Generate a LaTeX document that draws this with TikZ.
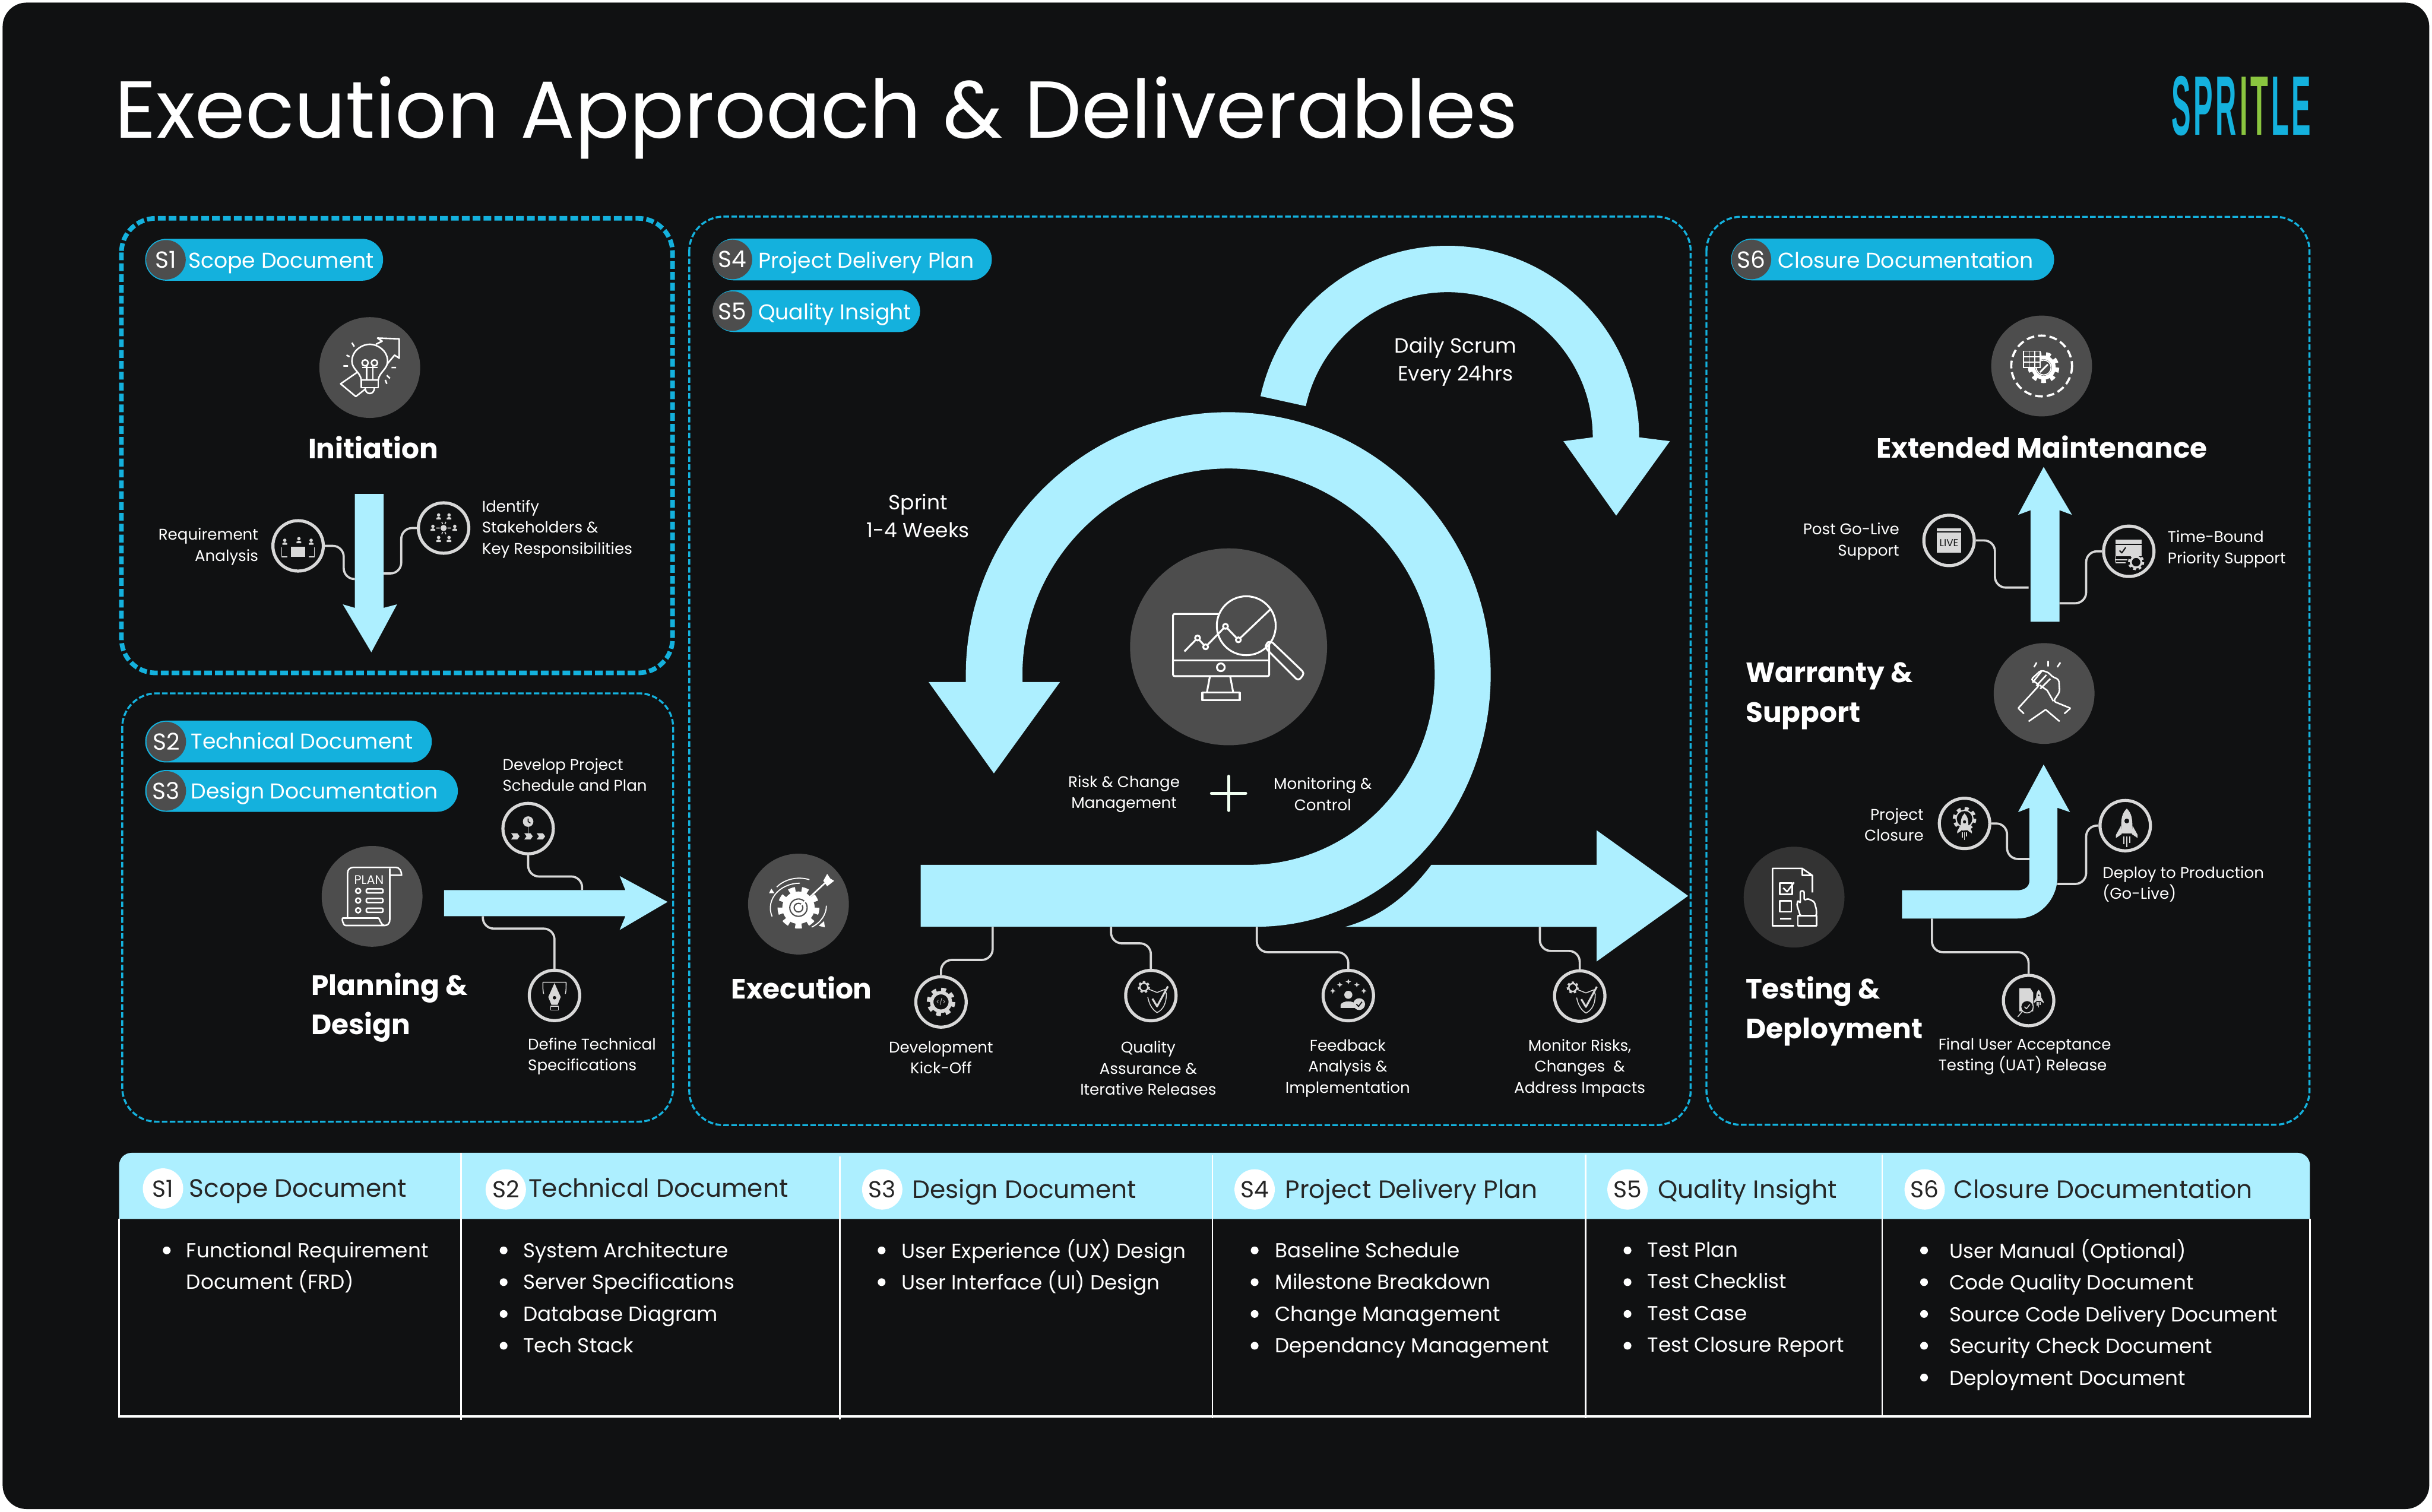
\documentclass[tikz,border=0pt]{standalone}
\usepackage{fontspec}
\setmainfont{Poppins}
\newfontfamily\logofont{Liberation Sans}
\usetikzlibrary{calc}
\definecolor{bgdark}{HTML}{101112}
\definecolor{sky}{HTML}{ADEFFF}
\definecolor{pillblue}{HTML}{14B1DD}
\definecolor{discgray}{HTML}{4D4D4D}
\definecolor{discdark}{HTML}{333333}
\definecolor{wiregray}{HTML}{D8D8D8}
\definecolor{logogreen}{HTML}{8AC53F}
\tikzset{
 boxthick/.style={draw=pillblue, line width=3pt, dash pattern=on 5pt off 2pt, rounded corners=22pt},
 boxthin/.style={draw=pillblue, line width=1.3pt, dash pattern=on 3.6pt off 1.5pt, rounded corners=22pt},
 pill/.style={fill=pillblue, rounded corners=13.5pt, minimum height=27pt, inner sep=0pt},
 pillc/.style={circle, fill=discgray, minimum size=25.5pt, inner sep=0pt, text=white, font=\fontsize{15}{15}\selectfont},
 pilltext/.style={anchor=base west, inner sep=0pt, text=white, font=\fontsize{13.85}{14}\selectfont},
 disc/.style={circle, fill=discgray, minimum size=65pt, inner sep=0pt},
 small/.style={circle, draw=wiregray, line width=2pt, minimum size=32.5pt, inner sep=0pt},
 heading/.style={inner sep=0pt, text=white, font=\fontsize{18}{25.5}\selectfont\bfseries, align=left},
 lbl/.style={inner sep=0pt, yshift=-.8pt, text=white, font=\fontsize{10}{13.6}\selectfont},
 big/.style={inner sep=0pt, text=white, font=\fontsize{13.2}{18}\selectfont, align=center},
 wire/.style={draw=wiregray, line width=1.4pt, rounded corners=7pt},
 thead/.style={anchor=base west, inner sep=0pt, text=black!85, font=\fontsize{16.2}{16}\selectfont},
 theadc/.style={circle, fill=white, minimum size=26pt, inner sep=0pt, text=black!85, font=\fontsize{15}{15}\selectfont},
 tbody/.style={anchor=north west, inner sep=0pt, text=white, font=\fontsize{13.1}{20.45}\selectfont, align=left},
 rule/.style={draw=white, line width=1pt},
 icon/.style={white, line width=1pt, line join=round},
 sicon/.style={wiregray, line width=.6pt, line join=round},
}
\newcommand{\gearat}[3]{
 \pgfmathsetmacro{\gearstep}{3.1416*1.05*#2/#3}
 \draw[line width=#2*.35pt, dash pattern=on \gearstep pt off \gearstep pt] (#1) circle (#2*1.05);
 \draw[line width=#2*.3pt] (#1) circle (#2*.8);
}
\newcommand{\bulls}[2]{\foreach \y in {#2} {\fill[white] (#1,\y) circle (2.5pt);}}
\newcommand{\person}[2]{
 \fill (#1,#2-1.1) circle (1.1);
 \fill (#1-1.5,#2+1.8) -- (#1-1.5,#2+.8) -- (#1,#2+.1) -- (#1+1.5,#2+.8) -- (#1+1.5,#2+1.8) -- cycle;
}
\newcommand{\minirocket}[3]{
 \begin{scope}[shift={(#1,#2)},scale=#3]
  \fill[even odd rule] (0,-11) .. controls (3,-8) and (4,-5) .. (3.5,5) -- (-3.5,5) .. controls (-4,-5) and (-3,-8) .. (0,-11) -- cycle (0,-3) circle (1.6);
  \fill (-3.7,0) -- (-7,6) -- (-7,8) -- (-3.3,5.5) -- cycle;
  \fill (3.7,0) -- (7,6) -- (7,8) -- (3.3,5.5) -- cycle;
  \draw (-2,7) -- (-2,12) (0,7) -- (0,14) (2,7) -- (2,11);
 \end{scope}
}
\begin{document}
\begin{tikzpicture}[x=1pt,y=-1pt]
 \useasboundingbox (0,0) rectangle (1568,975);
 \fill[white] (0,0) rectangle (1568,975);
 \fill[bgdark, rounded corners=15.4pt] (1.7,1.7) rectangle (1566.2,973.1);

 % title and logo
 \node (title) [anchor=west, inner sep=0pt, text=white, font=\fontsize{52.1}{52}\selectfont] at (74,76) {Execution Approach \& Deliverables};
 \node (logo) [inner sep=0pt] at (1445,68.4) {\resizebox{90pt}{38pt}{\logofont\bfseries\textcolor{pillblue}{S\kern.1em P\kern.1em R}\kern.1em\textcolor{logogreen}{I\kern.1em T}\kern.1em\textcolor{pillblue}{L\kern.1em E}}};

 % section frames
 \draw[boxthick] (78.3,140.8) rectangle (433.6,433.9);
 \draw[boxthin] (78.8,447.1) rectangle (434,723.3);
 \draw[boxthin] (444.4,139.7) rectangle (1090,725.5);
 \draw[boxthin] (1100.2,139.8) rectangle (1489,725.3);

 % initiation
 \node (pillA) [pill, minimum width=153.4pt] at (170.3,167.5) {};
 \node (pillAc) [pillc] at (107,167.5) {S1};
 \node (pillAt) [pilltext] at (121.2,172.7) {Scope Document};
 \node (init) [disc] at (238.4,237) {};
 \begin{scope}[shift={(init)},icon]
  \draw (-5.5,8) .. controls (-6,3) and (-11.5,1) .. (-11.5,-4) .. controls (-11.5,-11) and (-5,-15) .. (0,-15) .. controls (5,-15) and (11.5,-11) .. (11.5,-4) .. controls (11.5,1) and (6,3) .. (5.5,8) -- cycle;
  \draw (-5.5,8) rectangle (5.5,13);
  \draw (-3,13) .. controls (-3,18) and (3,18) .. (3,13);
  \draw (-2,8) -- (-2,-2) (2,8) -- (2,-2) (-5,0) -- (5,0);
  \draw (-3,-3) circle (2) (3,-3) circle (2);
  \draw (4,-15) -- (8,-17) -- (5,-19) -- (19,-18.5) -- (19,-6) -- (16,-8) -- (11,-2);
  \draw (-8,3) -- (-18.8,10.5) -- (-9,18.7) -- (-3,14);
  \draw (-15,-8) -- (-13,-7) (-17,-1) -- (-14,-1) (-11.5,-16) -- (-10,-13.5) (14,0) -- (17,0) (11,5) -- (13,7) (10,8) -- (11,10.5);
 \end{scope}
 \node (initt) [heading] at (240.6,288.4) {Initiation};
 \fill[sky] (228.8,318.5) -- (247.3,318.5) -- (247.3,392) -- (256,389.7) -- (239.4,420.6) -- (221,389.7) -- (228.8,392) -- cycle;
 \node (reqc) [small] at (192.2,352) {};
 \begin{scope}[shift={(reqc)},sicon]
  \fill (-4.7,.4) rectangle (4.7,7);
  \person{-8.6}{-2.5} \person{.5}{-3.5} \person{8.4}{-2.5}
  \draw (-10.5,1) -- (-10.5,7) -- (-7,7) (10.5,1) -- (10.5,7) -- (7,7);
 \end{scope}
 \node (stakec) [small] at (286,340.5) {};
 \begin{scope}[shift={(stakec)},sicon]
  \fill (0,0) circle (2);
  \person{-3.2}{-7.3} \person{3.5}{-7.3} \person{-6.9}{0} \person{7.2}{0} \person{-3.2}{7.2} \person{3.5}{7.2}
  \draw (-1.2,-4) -- (-.6,-2.5) (1.5,-4) -- (.8,-2.5) (-4.8,0) -- (-2.5,0) (4.8,0) -- (2.5,0) (-1.2,4) -- (-.6,2.5) (1.5,4) -- (.8,2.5);
 \end{scope}
 \coordinate (reqend) at (228.8,373.4);
 \coordinate (stakeend) at (247.3,369.8);
 \draw[wire] (reqc.east) -| (221.6,373.4) -- (reqend);
 \draw[wire] (stakec.west) -| (258.7,369.8) -- (stakeend);
 \node (req) [lbl, anchor=east, align=right] at (166.7,351.8) {Requirement\\Analysis};
 \node (stake) [lbl, anchor=west, align=left] at (310.6,340.3) {Identify\\Stakeholders \&\\Key Responsibilities};

 % planning
 \node (pillB) [pill, minimum width=184.8pt] at (186,478.2) {};
 \node (pillBc) [pillc] at (107.2,478.2) {S2};
 \node (pillBt) [pilltext] at (123,483) {Technical Document};
 \node (pillC) [pill, minimum width=201.6pt] at (194.4,510) {};
 \node (pillCc) [pillc] at (107.2,510) {S3};
 \node (pillCt) [pilltext] at (123,515) {Design Documentation};
 \node (plan) [disc] at (239.9,578) {};
 \begin{scope}[shift={(plan)},icon]
  \draw (-15.8,14) -- (-15.8,-15) .. controls (-15.8,-17.5) and (-14,-18.7) .. (-12,-18.7) -- (15,-18.7) .. controls (18,-18.7) and (19,-16) .. (19,-13.6) -- (11.4,-13.6);
  \draw (11.4,-18) -- (11.4,15) .. controls (11.4,18) and (9.5,18.8) .. (8,18.8) -- (-17,18.8) .. controls (-19,18.8) and (-19.5,14) .. (-19,14) -- (4,14) .. controls (5,14) and (5,18) .. (8,18.8);
  \node (plani) [inner sep=0pt, font=\fontsize{8}{8}\selectfont] at (-2,-10.5) {PLAN};
  \draw (-9,-3.5) circle (1.6) (-9,2.7) circle (1.6) (-9,9) circle (1.6);
  \draw[rounded corners=.6pt] (-3.7,-4.8) rectangle (7,-2.2) (-3.7,1.4) rectangle (7,4) (-3.7,7.7) rectangle (7,10.3);
 \end{scope}
 \node (plant) [heading, anchor=west] at (200.6,649.7) {Planning \&\\Design};
 \fill[sky] (286.3,574) -- (403.2,574) -- (399.5,564.9) -- (430.4,581.6) -- (399.5,599.7) -- (403.2,590.8) -- (286.3,590.8) -- cycle;
 \node (timec) [small] at (340.5,534.3) {};
 \begin{scope}[shift={(timec)},sicon]
  \fill (0,-4.5) circle (3.4);
  \draw (0,-1) -- (0,3);
  \fill (-11,3) -- (-7,3) -- (-5.5,5) -- (-7,7) -- (-11,7) -- (-9.5,5) -- cycle;
  \fill (-2.5,3) -- (1.5,3) -- (3,5) -- (1.5,7) -- (-2.5,7) -- (-1,5) -- cycle;
  \fill (5.5,3) -- (9.5,3) -- (11,5) -- (9.5,7) -- (5.5,7) -- (7,5) -- cycle;
  \draw[bgdark] (0,-6.5) -- (0,-4.5) -- (1.5,-3.5);
 \end{scope}
 \node (penc) [small] at (357.5,641.9) {};
 \begin{scope}[shift={(penc)},sicon]
  \fill (0,-8) -- (4,1) -- (2,6) -- (-2,6) -- (-4,1) -- cycle;
  \fill[bgdark] (0,1.5) circle (1.1);
  \draw (-2.5,7) rectangle (2.5,9.5);
  \draw (-7.5,-8.5) -- (7.5,-8.5) (-7.5,-8.5) .. controls (-7.5,-5) and (-7.5,-3) .. (-7,-1) (7.5,-8.5) .. controls (7.5,-5) and (7.5,-3) .. (7,-1);
 \end{scope}
 \coordinate (timeend) at (375.3,574);
 \coordinate (penend) at (311.3,590.8);
 \draw[wire] (timec.south) |- (timeend |- 0,565.2) -- (timeend);
 \draw[wire] (penend) |- (penc.north |- 0,598.8) -- (penc.north);
 \node (time) [lbl, anchor=west, align=left] at (323.9,498.9) {Develop Project\\Schedule and Plan};
 \node (pen) [lbl, anchor=west, align=left] at (340.2,680.4) {Define Technical\\Specifications};

 % execution
 \node (pillD) [pill, minimum width=179.9pt] at (549.5,167.3) {};
 \node (pillDc) [pillc] at (472.2,167.3) {S4};
 \node (pillDt) [pilltext] at (488.7,172.7) {Project Delivery Plan};
 \node (pillE) [pill, minimum width=133.6pt] at (526.4,200.6) {};
 \node (pillEc) [pillc] at (472.2,200.6) {S5};
 \node (pillEt) [pilltext] at (488.7,206.1) {Quality Insight};
 \coordinate (scrum) at (933.3,282);
 \fill[sky] (scrum) ++(192.4:123.5) arc (192.4:360:123.5) -- (1076.6,284.5) -- (1042,332.5) -- (1008,284.5) -- (1026.9,282) arc (360:192.4:93.6) -- cycle;
 \fill[sky] (867.2,597.7) .. controls (895,590) and (912,572) .. (922.8,557.7) -- (1029.4,557.7) -- (1029.4,535.4) -- (1088.4,577.7) -- (1029.4,620) -- (1029.4,597.7) -- cycle;
 \fill[sky] (593.6,557.7) -- (805,557.7) arc (90:0:120 and 122.7) arc (360:180:132.9) -- (659.2,439.8) -- (683.4,439.8) -- (640.8,498.7) -- (598.7,439.8) -- (622.7,439.8) -- (622.7,435) arc (180:360:169.2) arc (0:90:151 and 162.6) -- (593.6,597.6) -- cycle;
 \node (moni) [circle, fill=discgray, minimum size=127pt, inner sep=0pt] at (792.1,417.1) {};
 \begin{scope}[shift={(moni)},icon,line width=1.2pt]
  \draw[rounded corners=1pt] (-35.8,-21.2) rectangle (26.2,18.9);
  \draw (-35.8,8.7) -- (26.2,8.7);
  \draw (-5,13.2) circle (2.5);
  \draw (-12,18.9) -- (-14,29.5) (1,18.9) -- (3,29.5);
  \draw (-16.9,29.5) rectangle (7.2,34.4);
  \draw[fill=discgray] (11.4,-13.6) circle (19);
  \draw[rounded corners=2pt] (24,-2) -- (27,-4) -- (49,17) -- (45,22) -- (24,1) -- cycle;
  \draw (-28.5,3) -- (-20,-5.7) -- (-14.8,0) -- (-2,-13.2) -- (6.3,-4.5) -- (27.4,-24.6);
  \draw[fill=discgray] (-20,-5.7) circle (1.6) (-14.8,0) circle (1.6) (-2,-13.2) circle (1.6) (6.3,-4.5) circle (1.6);
 \end{scope}
 \node (exec) [disc] at (514.8,583) {};
 \begin{scope}[shift={(exec)},white]
  \gearat{0,2.3}{11}{9}
  \fill[white] (0,2.3) circle (8);
  \draw[discgray,line width=.8pt] (0,2.3) circle (5.6) (0,2.3) circle (2.8);
  \draw[line width=1pt] (0,2.3) -- (17,-13.5);
  \fill (16,-15) -- (18.5,-19.5) -- (20.5,-16.5) -- (23,-15) -- (18.5,-11.5) -- cycle;
  \draw[line width=.7pt] (-17,8) arc (160:270:19 and 16);
  \draw[line width=.7pt] (-14,-11) arc (220:290:19 and 16);
  \draw[line width=.7pt] (18,1) arc (0:60:19 and 16);
  \fill (-19,-7) -- (-15.5,-7) -- (-17.5,-10) -- cycle;
  \fill (13,14) -- (17,15) -- (16.5,11) -- cycle;
 \end{scope}
 \node (exect) [heading] at (516.9,637) {Execution};
 \node (scrumt) [big] at (938.4,233.3) {Daily Scrum\\Every 24hrs};
 \node (sprint) [big] at (591.9,332.8) {Sprint\\1-4 Weeks};
 \node (risk) [lbl, align=center] at (724.7,511.2) {Risk \& Change\\Management};
 \node (ctrl) [lbl, align=center] at (852.8,511.2) {Monitoring \&\\Control};
 \coordinate (plus) at (792.1,511.6);
 \draw[draw=green!6!white, line width=2pt, line cap=round] ($(plus)+(-11,0)$) -- ($(plus)+(11,0)$);
 \draw[draw=green!6!white, line width=2pt, line cap=round] ($(plus)+(0,-11)$) -- ($(plus)+(0,11)$);
 \node (devc) [small] at (606.7,646.1) {};
 \begin{scope}[shift={(devc)},sicon]
  \gearat{0,0}{7.5}{8}
  \node (devi) [inner sep=0pt, text=wiregray, font=\fontsize{4}{4}\selectfont] at (0,0) {</>};
 \end{scope}
 \node (qac) [small] at (742,642) {};
 \begin{scope}[shift={(qac)},sicon]
  \gearat{-4.5,-5.5}{3.2}{7}
  \draw (-2,1) .. controls (-1,6) and (1,9) .. (4,11) .. controls (8,9) and (10,5) .. (10,-1) -- (9,-4) -- (4,-2) -- (-1,-4);
  \draw[line width=1.2pt] (1,2) -- (4,7) -- (11,-6);
 \end{scope}
 \node (fbc) [small] at (869.3,642) {};
 \begin{scope}[shift={(fbc)},sicon]
  \foreach \sx/\sy in {-10/-3, -5.5/-7, 0/-9, 5.5/-7, 10/-3} {
   \fill (\sx,\sy-1.8) -- (\sx+.5,\sy-.5) -- (\sx+1.8,\sy) -- (\sx+.5,\sy+.5) -- (\sx,\sy+1.8) -- (\sx-.5,\sy+.5) -- (\sx-1.8,\sy) -- (\sx-.5,\sy-.5) -- cycle;
  }
  \fill (0,-.5) circle (2.6);
  \fill (-5,8) -- (-5,6) .. controls (-4,3) and (4,3) .. (5,6) -- (5,8) -- cycle;
  \fill (7,5.5) circle (3.8);
  \draw[bgdark,line width=.7pt] (5.2,5.5) -- (6.6,7) -- (8.8,4);
 \end{scope}
 \node (risc) [small] at (1018.5,642.3) {};
 \begin{scope}[shift={(risc)},sicon]
  \gearat{-4.5,-5.5}{3.2}{7}
  \draw (-2,1) .. controls (-1,6) and (1,9) .. (4,11) .. controls (8,9) and (10,5) .. (10,-1) -- (9,-4) -- (4,-2) -- (-1,-4);
  \draw[line width=1.2pt] (1,2) -- (4,7) -- (11,-6);
 \end{scope}
 \coordinate (devend) at (640,597.7);
 \coordinate (qaend) at (716.3,597.7);
 \coordinate (fbend) at (810.3,597.7);
 \coordinate (risend) at (992.8,597.7);
 \draw[wire] (devend) |- (devc.north |- 0,619) -- (devc.north);
 \draw[wire] (qaend) |- (qac.north |- 0,608.3) -- (qac.north);
 \draw[wire] (fbend) |- (fbc.north |- 0,614) -- (fbc.north);
 \draw[wire] (risend) |- (risc.north |- 0,613.2) -- (risc.north);
 \node (dev) [lbl, align=center] at (606.7,681.2) {Development\\Kick-Off};
 \node (qa) [lbl, align=center] at (740.3,688) {Quality\\Assurance \&\\Iterative Releases};
 \node (fb) [lbl, align=center] at (868.9,688) {Feedback\\Analysis \&\\Implementation};
 \node (ris) [lbl, align=center] at (1018.5,688) {Monitor Risks,\\Changes~ \&\\Address Impacts};

 % closure
 \node (pillF) [pill, minimum width=208.3pt] at (1220.2,167.3) {};
 \node (pillFc) [pillc] at (1129.2,167.3) {S6};
 \node (pillFt) [pilltext] at (1146.2,172.7) {Closure Documentation};
 \node (maint) [disc] at (1316.3,236) {};
 \begin{scope}[shift={(maint)},white]
  \draw[line width=1.4pt, dash pattern=on 5pt off 2.5pt] (0,0) circle (19.6);
  \gearat{1.3,1}{8.2}{9}
  \draw[line width=.7pt, fill=discgray] (1.3,1) circle (4.8);
  \draw[line width=.7pt, fill=discgray] (-11.8,-9.6) rectangle (-1,1);
  \draw[line width=.6pt] (-11.8,-6) -- (-1,-6) (-11.8,-2.5) -- (-1,-2.5) (-8,-9.6) -- (-8,1) (-4.5,-9.6) -- (-4.5,1);
  \draw[line width=1.1pt] (-1,4) -- (4,-1);
 \end{scope}
 \node (maintt) [heading] at (1316.5,288.3) {Extended Maintenance};
 \fill[sky] (1309.2,400.9) -- (1309.2,329) -- (1301.1,332) -- (1317.6,301.1) -- (1335.9,332) -- (1327.8,329) -- (1327.8,400.9) -- cycle;
 \node (livec) [small] at (1256.6,348.5) {};
 \begin{scope}[shift={(livec)},sicon]
  \fill (-7.9,-5) rectangle (7.9,7.8);
  \fill (-7.9,-7.8) rectangle (7.9,-6);
  \node (livei) [inner sep=0pt, text=bgdark, font=\fontsize{6.5}{6.5}\selectfont] at (0,1.5) {LIVE};
 \end{scope}
 \node (codec) [small] at (1372.5,355.5) {};
 \begin{scope}[shift={(codec)},sicon]
  \fill (-8.7,-7.5) rectangle (8.2,-5);
  \fill (-8.7,-4) rectangle (8.2,3);
  \draw (-8.7,3) -- (-8.7,7) (-8.7,5.5) -- (-1,5.5) (-8.7,7.5) -- (-2,7.5);
  \draw[bgdark,line width=.8pt] (-6,-.5) -- (-4.5,1) -- (-2,-2.5);
  \gearat{4.7,7}{4.3}{8}
 \end{scope}
 \coordinate (liveend) at (1307.9,378.9);
 \coordinate (codeend) at (1327.8,389);
 \draw[wire] (livec.east) -| (1286.2,378.9) -- (liveend);
 \draw[wire] (codec.west) -| (1345,389) -- (codeend);
 \node (live) [lbl, anchor=east, align=right] at (1224.7,348.2) {Post Go-Live\\Support};
 \node (code) [lbl, anchor=west, align=left] at (1397.4,353.3) {Time-Bound\\Priority Support};
 \node (hands) [disc] at (1317.9,447.2) {};
 \begin{scope}[shift={(hands)},icon]
  \draw (-4.8,-20) -- (-6.5,-17) (2.6,-21) -- (2.6,-17.5) (10.5,-20) -- (8.5,-17);
  \draw[rounded corners=1.5pt] (-16.7,9.5) -- (-3,-5.5) -- (-8.5,-9) -- (-2,-15) -- (3,-13.5) -- (5,-11) -- (9.5,-9) -- (10,-1) -- (6,5) -- (17,9.5);
  \draw (-1.5,-14.5) -- (-7.5,-7) (1.5,-12) -- (-5,-5) (4,-9.5) -- (-2.5,-3);
  \draw (-3,-5.5) -- (2,-2) -- (6,5);
  \draw (-10,18) -- (1,10.4) -- (10,18);
  \draw (-16.7,9.5) -- (-13,13) (17,9.5) -- (13,13);
 \end{scope}
 \node (handst) [heading, anchor=west] at (1125.3,448.7) {Warranty \&\\Support};
 \node (test) [disc, fill=discdark] at (1156.7,578.5) {};
 \begin{scope}[shift={(test)},icon]
  \draw (11.8,-3) -- (11.8,-14) -- (5.2,-18.5) -- (-13.9,-18.5) -- (-13.9,18.5) -- (0,18.5);
  \draw (5.2,-18.5) -- (5.2,-14) -- (11.8,-14);
  \draw (-9.2,-9) rectangle (-1.3,-1.9) (-9.2,2.3) rectangle (-1.8,9.5);
  \draw (-7,-6) -- (-4.5,-3.5) -- (0,-9.5);
  \draw (-9.2,13.8) -- (-1.8,13.8);
  \draw[rounded corners=1pt] (4,12) -- (1.8,5) -- (2.5,2) -- (4,4) -- (4,-4) -- (6.5,-4) -- (6.5,2) -- (9,1) -- (11,2) -- (13,3) -- (14.4,8) -- (14.4,12) -- cycle;
  \draw (2.5,12) rectangle (14.4,18.5);
 \end{scope}
 \node (testt) [heading, anchor=west] at (1125.3,652) {Testing \&\\Deployment};
 \fill[sky] (1226.3,574.1) -- (1300.6,574.1) .. controls (1305,574.1) and (1308.4,572) .. (1308.4,568) -- (1308.4,520.9) -- (1301.1,523.7) -- (1317.6,493) -- (1334.6,523.7) -- (1326.5,520.9) -- (1326.5,565.3) .. controls (1326.5,580) and (1315,592.3) .. (1300.6,592.3) -- (1226.3,592.3) -- cycle;
 \node (closec) [small] at (1266.6,531) {};
 \begin{scope}[shift={(closec)},sicon]
  \gearat{0,-3}{6.2}{8}
  \fill[bgdark] (0,-3) circle (5);
  \minirocket{0}{1}{.68}
 \end{scope}
 \node (rockc) [small] at (1370.2,532.4) {};
 \begin{scope}[shift={(rockc)},sicon]
  \minirocket{1}{0}{1}
 \end{scope}
 \node (uatc) [small] at (1307.9,645.2) {};
 \begin{scope}[shift={(uatc)},sicon]
  \fill (-6,-8) -- (1,-8) -- (3,-5) -- (3,7) -- (-6,7) -- cycle;
  \draw[fill=bgdark] (-1,4) circle (4);
  \draw (-4,7) -- (-7,10.5);
  \draw (-2.7,4) -- (-1.4,5.3) -- (.8,2.5);
  \minirocket{6.5}{-2}{.45}
 \end{scope}
 \coordinate (closeend) at (1308.4,553.9);
 \coordinate (rockend) at (1326.5,570);
 \coordinate (uatend) at (1245.6,592.3);
 \draw[wire] (closec.east) -| (1294,553.9) -- (closeend);
 \draw[wire] (rockc.west) -| (1345,570) -- (rockend);
 \draw[wire] (uatend) |- (uatc.north |- 0,614) -- (uatc.north);
 \node (close) [lbl, anchor=east, align=right] at (1240.4,531) {Project\\Closure};
 \node (rock) [lbl, anchor=west, align=left] at (1355.5,569.4) {Deploy to Production\\(Go-Live)};
 \node (uat) [lbl, anchor=west, align=left] at (1249.6,680.5) {Final User Acceptance\\Testing (UAT) Release};

 % table
 \fill[sky] (76.8,786) -- (76.8,751.4) arc (180:270:8) -- (1481.3,743.4) arc (270:360:8) -- (1489.3,786) -- cycle;
 \draw[rule] (76.8,786) -- (76.8,913.2);
 \draw[rule] (1489.3,786) -- (1489.3,913.2);
 \draw[rule, line width=1.5pt] (76.3,913.2) -- (1489.8,913.2);
 \draw[rule] (297.2,743.4) -- (297.2,915.7);
 \draw[rule] (541.4,745.7) -- (541.4,915.2);
 \draw[rule] (781.7,744.9) -- (781.7,914.7);
 \draw[rule] (1022.3,744.5) -- (1022.3,914.7);
 \draw[rule] (1213.5,744.5) -- (1213.5,914.2);
 \node (headA) [theadc] at (105.1,766.4) {S1};
 \node (headAt) [thead] at (121.9,772.1) {Scope Document};
 \node (headB) [theadc] at (326.1,767) {S2};
 \node (headBt) [thead] at (340.5,772.1) {Technical Document};
 \node (headC) [theadc] at (568.8,767) {S3};
 \node (headCt) [thead] at (588,772.8) {Design Document};
 \node (headD) [theadc] at (808.9,767) {S4};
 \node (headDt) [thead] at (828.4,772.8) {Project Delivery Plan};
 \node (headE) [theadc] at (1049.3,767) {S5};
 \node (headEt) [thead] at (1068.8,772.8) {Quality Insight};
 \node (headF) [theadc] at (1240.9,767) {S6};
 \node (headFt) [thead] at (1259.5,772.8) {Closure Documentation};
 \node (listA) [tbody] at (120,800.7) {Functional Requirement\\Document (FRD)};
 \node (listB) [tbody] at (337.2,800.7) {System Architecture\\Server Specifications\\Database Diagram\\Tech Stack};
 \node (listC) [tbody] at (581,798.9) {User Experience (UX) Design\\User Interface (UI) Design};
 \node (listD) [tbody] at (821.9,800.7) {Baseline Schedule\\Milestone Breakdown\\Change Management\\Dependancy Management};
 \node (listE) [tbody] at (1061.9,800.7) {Test Plan\\Test Checklist\\Test Case\\Test Closure Report};
 \node (listF) [tbody] at (1256.7,798.9) {User Manual (Optional)\\Code Quality Document\\Source Code Delivery Document\\Security Check Document\\Deployment Document};
 \bulls{107.5}{806.3}
 \bulls{324.7}{806.3, 826.8, 847.3, 867.8}
 \bulls{568.4}{806.3, 826.8}
 \bulls{808.9}{806.3, 826.8, 847.3, 867.8}
 \bulls{1049.3}{806.3, 826.8, 847.3, 867.8}
 \bulls{1240.5}{806.3, 826.8, 847.3, 867.8, 888.3}
\end{tikzpicture}
\end{document}
